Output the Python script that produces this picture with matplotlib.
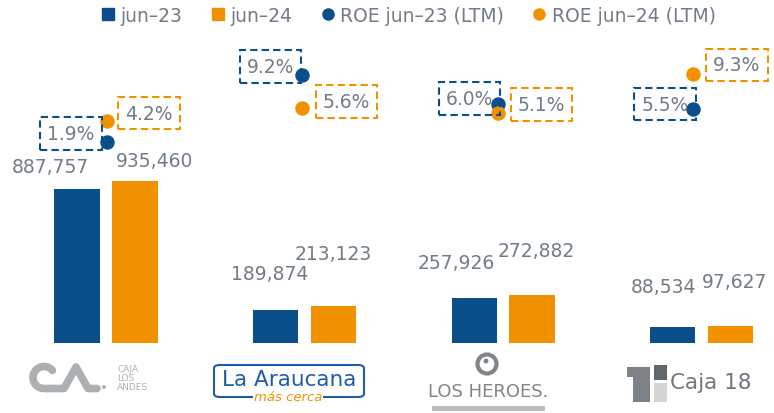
import matplotlib.pyplot as plt
import numpy as np
from matplotlib.lines import Line2D
from matplotlib.patches import FancyBboxPatch, Rectangle, Circle

# datos (montos y ROE LTM)
empresas = ["Caja Los Andes", "La Araucana", "Los Héroes", "Caja 18"]
monto_jun23 = [887757, 189874, 257926, 88534]
monto_jun24 = [935460, 213123, 272882, 97627]
roe_jun23 = [1.9, 9.2, 6.0, 5.5]
roe_jun24 = [4.2, 5.6, 5.1, 9.3]

# desplazamientos de etiquetas (pixeles)
off_lbl23 = [(-27, 23), (-6, 36), (-18, 35), (-9, 41)]
off_lbl24 = [(20, 20), (0, 52), (4, 45), (4, 44)]
off_roe23 = [(-36, 9), (-32, 8), (-28, 6), (-28, 5)]
off_roe24 = [(42, 8), (44, 7), (44, 8), (44, 9)]

AZUL = "#0B4F8A"
NARANJA = "#F29100"
GRIS = "#727C88"

W, H = 774, 414
fig = plt.figure(figsize=(W / 100, H / 100), dpi=100)

y_base, y_top = 343.5, 40
rect = [0, (H - y_base) / H, 1, (y_base - y_top) / H]
ax = fig.add_axes(rect)
ax.set_xlim(-0.534, 3.365)
ax.set_ylim(0, (y_base - y_top) * 5790)
ax.axis("off")

ax2 = fig.add_axes(rect)
ax2.set_xlim(-0.548, 3.415)
ax2.set_ylim(-19.79, 13.09)
ax2.axis("off")
ax2.patch.set_alpha(0)

x = np.arange(len(empresas))
ancho = 0.227
sep = 0.146
ax.bar(x - sep, monto_jun23, ancho, color=AZUL)
ax.bar(x + sep, monto_jun24, ancho, color=NARANJA)

for i in range(len(empresas)):
    ax.annotate(f"{monto_jun23[i]:,}", (x[i] - sep, monto_jun23[i]), xytext=off_lbl23[i],
                textcoords="offset pixels", ha="center", va="center", fontsize=13.5, color=GRIS)
    ax.annotate(f"{monto_jun24[i]:,}", (x[i] + sep, monto_jun24[i]), xytext=off_lbl24[i],
                textcoords="offset pixels", ha="center", va="center", fontsize=13.5, color=GRIS)

ax2.plot(x, roe_jun23, "o", color=AZUL, markersize=9.4, zorder=3)
ax2.plot(x, roe_jun24, "o", color=NARANJA, markersize=9.4, zorder=4)

for i in range(len(empresas)):
    for val, off, col in [(roe_jun23[i], off_roe23[i], AZUL), (roe_jun24[i], off_roe24[i], NARANJA)]:
        ax2.annotate(f"{val:.1f}%", (x[i], val), xytext=off, textcoords="offset pixels",
                     ha="center", va="center", fontsize=13.5, color=GRIS, zorder=5,
                     bbox=dict(boxstyle="square,pad=0.37", fc="none", ec=col,
                               lw=1.5, ls=(0, (3.5, 2))))

# leyenda
handles = [
    Line2D([], [], marker="s", ls="", color=AZUL, markersize=8.6),
    Line2D([], [], marker="s", ls="", color=NARANJA, markersize=8.6),
    Line2D([], [], marker="o", ls="", color=AZUL, markersize=8),
    Line2D([], [], marker="o", ls="", color=NARANJA, markersize=8),
]
labels = ["jun\u201323", "jun\u201324", "ROE jun\u201323 (LTM)", "ROE jun\u201324 (LTM)"]
fig.legend(handles, labels, loc="center", bbox_to_anchor=(409.5 / W, 1 - 16 / H), ncol=4,
           frameon=False, fontsize=13.5, labelcolor=GRIS, handlelength=0.5,
           handletextpad=0.4, columnspacing=1.65, borderpad=0)

# "logos" dibujados de forma simple (coordenadas en pixeles de la figura)
def px(xp, yp):
    return xp / W, 1 - yp / H

def pin(xp, yp):
    # pulgadas desde abajo a la izquierda, para figuras sin deformar
    return xp / 100, (H - yp) / 100

gris_logo = "#ADB0B3"
t = np.linspace(np.radians(40), np.radians(270), 40)
cx, cy, r = 44, 378.5, 11
xs = list(cx + r * np.cos(t)) + [58, 64, 76, 88, 97]
ys = list(cy - r * np.sin(t)) + [389.5, 389.5, 368, 389.5, 389.5]
fig.add_artist(Line2D([a / W for a in xs], [1 - b / H for b in ys], color=gris_logo, lw=5.5,
                      solid_capstyle="round", solid_joinstyle="round"))
fig.add_artist(Circle(pin(104, 388), 0.02, transform=fig.dpi_scale_trans, fc=gris_logo, ec="none"))
fig.text(*px(117, 379), "CAJA\nLOS\nANDES", fontsize=6.5, color=gris_logo, va="center",
         ha="left", linespacing=1.0)

fig.add_artist(FancyBboxPatch(px(214, 398), 150 / W, 32 / H,
                              boxstyle="round,pad=0,rounding_size=0.008",
                              ec="#1D5CA8", fc="white", lw=1.5, transform=fig.transFigure))
fig.text(*px(289, 380), "La Araucana", fontsize=15.5, color="#1D5CA8", ha="center", va="center")
fig.text(*px(288, 398), "más cerca", fontsize=9.5, color=NARANJA, style="italic",
         ha="center", va="center", bbox=dict(fc="white", ec="none", pad=0.5))

gris_lh = "#80858A"
fig.add_artist(Circle(pin(487, 365), 0.095, transform=fig.dpi_scale_trans, fc="none",
                      ec=gris_lh, lw=3))
fig.add_artist(Circle(pin(486, 362), 0.025, transform=fig.dpi_scale_trans, fc=gris_lh, ec="none"))
fig.text(*px(488.5, 392), "LOS HEROES.", fontsize=13, color=gris_lh, ha="center", va="center")
fig.add_artist(Rectangle(px(432, 412), 113 / W, 5 / H, transform=fig.transFigure,
                         fc="#BABDC0", ec="none"))

gris_c18 = "#6E757C"
fig.add_artist(Rectangle(px(633, 403), 17 / W, 35 / H, transform=fig.transFigure,
                         fc="#7C8288", ec="none"))
fig.add_artist(Rectangle(px(627, 378), 8 / W, 10 / H, transform=fig.transFigure,
                         fc="#7C8288", ec="none"))
fig.add_artist(Rectangle(px(654, 381), 13 / W, 15 / H, transform=fig.transFigure,
                         fc="#5F666D", ec="none"))
fig.add_artist(Rectangle(px(654, 403), 13 / W, 19 / H, transform=fig.transFigure,
                         fc="#D3D5D7", ec="none"))
fig.text(*px(711, 383.5), "Caja 18", fontsize=15.5, color=gris_c18, ha="center", va="center")

fig.savefig("out.png", dpi=100)
plt.close(fig)
